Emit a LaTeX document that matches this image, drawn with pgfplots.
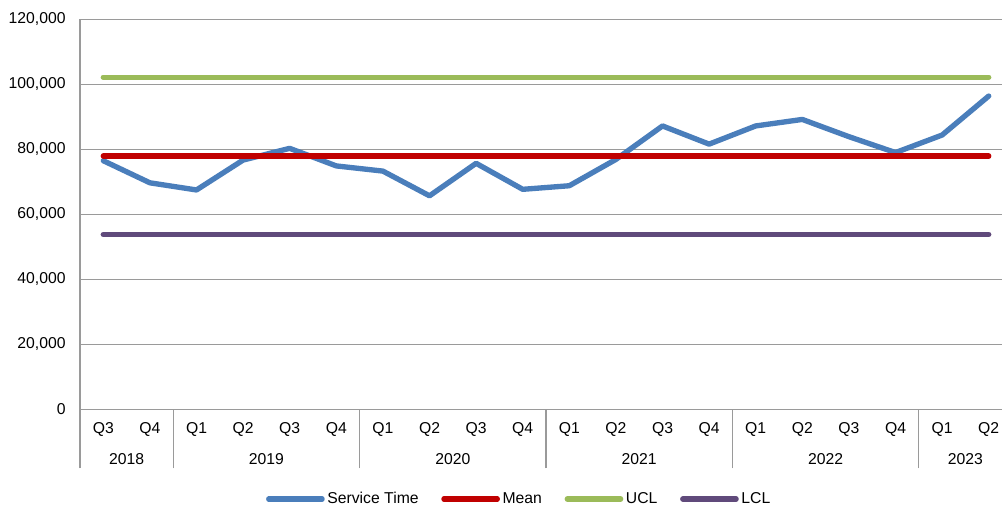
\documentclass[border=0pt]{standalone}
\usepackage{fontspec}
\setmainfont{Liberation Sans}
\usepackage{pgfplots}
\pgfplotsset{compat=1.18}
\definecolor{cBlue}{HTML}{4A7EBB}
\definecolor{cRed}{HTML}{C00000}
\definecolor{cGreen}{HTML}{9BBB59}
\definecolor{cPurple}{HTML}{604A7B}
\definecolor{cGrid}{HTML}{9A9A9A}
\newcommand{\lblfont}{\fontsize{11.8}{14}\selectfont}
\begin{document}
\begin{tikzpicture}
\begin{axis}[
  name=ax,
  scale only axis,
  width=691.5pt, height=292.5pt,
  xmin=-0.5, xmax=19.285,
  ymin=0, ymax=120000,
  ytick={0,20000,40000,60000,80000,100000,120000},
  scaled y ticks=false,
  yticklabel style={/pgf/number format/fixed, /pgf/number format/1000 sep={,},
    /pgf/number format/assume math mode=true, xshift=-7.3pt},
  tick label style={font=\lblfont},
  axis x line*=bottom, axis y line*=left,
  axis line style={-, draw=cGrid, line width=1pt},
  ymajorgrids, grid style={draw=cGrid, line width=1pt},
  xtick={0,...,19},
  xticklabels={Q3,Q4,Q1,Q2,Q3,Q4,Q1,Q2,Q3,Q4,Q1,Q2,Q3,Q4,Q1,Q2,Q3,Q4,Q1,Q2},
  xticklabel style={yshift=-6.5pt},
  minor xtick={-0.5,1.5,5.5,9.5,13.5,17.5},
  tick align=outside,
  major tick length=0pt,
  minor tick length=44.3pt,
  tick style={draw=cGrid, line width=1pt},
  extra x ticks={0.5,3.5,7.5,11.5,15.5,18.5},
  extra x tick labels={2018,2019,2020,2021,2022,2023},
  extra x tick style={major tick length=0pt, xticklabel style={yshift=-23pt}},
  legend columns=4,
  legend cell align=left,
  legend style={draw=none, fill=none, font=\lblfont,
    at={(axis description cs:0.4767,-0.23)}, anchor=center,
    /tikz/every even column/.append style={column sep=15pt}},
  legend image code/.code={\draw[#1, line cap=round] (0pt,0pt) -- (40pt,0pt);},
  every axis plot/.append style={line width=4pt, line cap=round, line join=round},
]
\addplot[cBlue] coordinates {
  (0,76500) (1,69700) (2,67500) (3,76700) (4,80300) (5,74900)
  (6,73300) (7,65700) (8,75700) (9,67700) (10,68800) (11,76900)
  (12,87200) (13,81600) (14,87200) (15,89200) (16,83900) (17,79000)
  (18,84400) (19,96400)};
\addlegendentry{Service Time}
\addplot[cRed] coordinates {(0,77900) (19,77900)};
\addlegendentry{Mean}
\addplot[cGreen] coordinates {(0,102200) (19,102200)};
\addlegendentry{UCL}
\addplot[cPurple] coordinates {(0,53800) (19,53800)};
\addlegendentry{LCL}
\end{axis}
\pgfresetboundingbox
\useasboundingbox ([xshift=-60pt,yshift=-74pt]ax.south west) rectangle ([yshift=14.5pt]ax.north east);
\end{tikzpicture}
\end{document}
